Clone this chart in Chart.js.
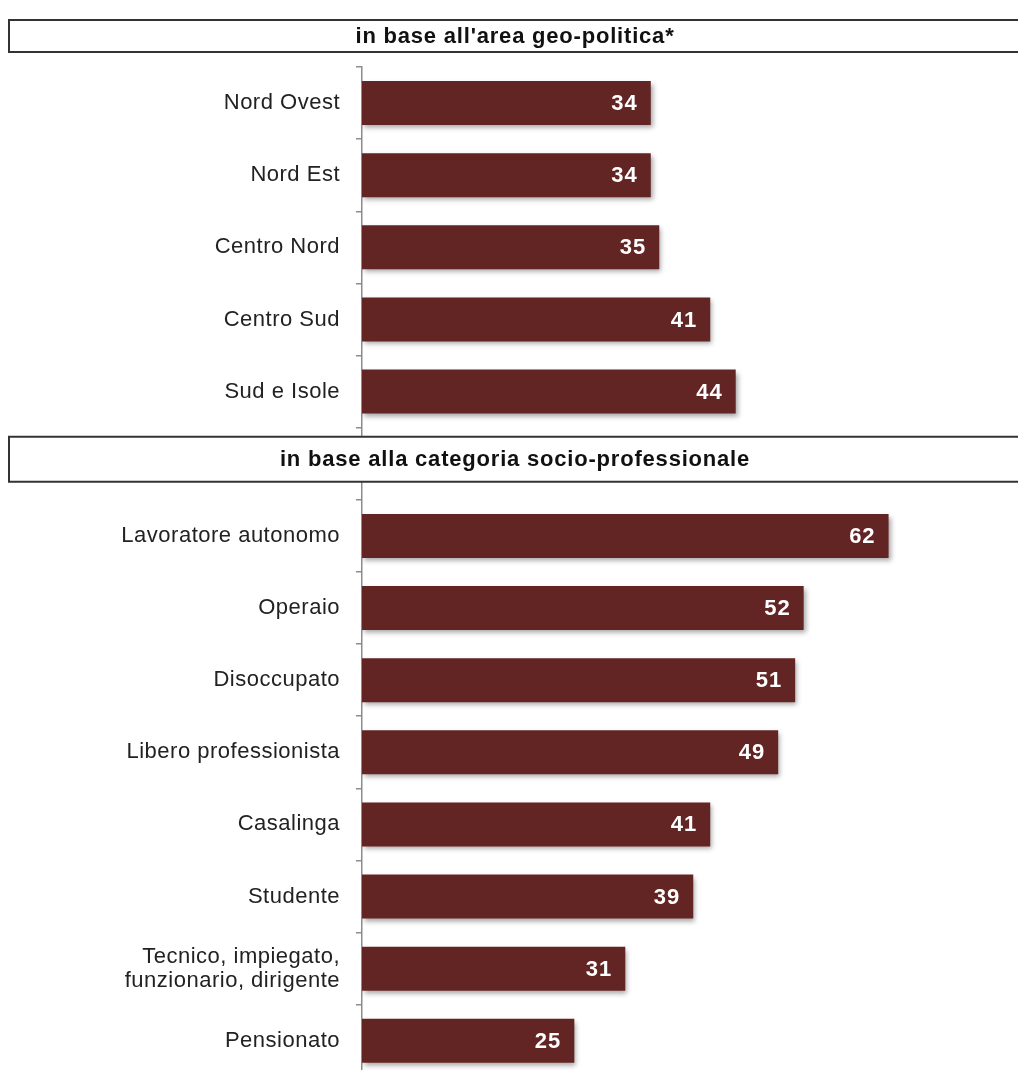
<!DOCTYPE html>
<html>
<head>
<meta charset="utf-8">
<script src="https://cdn.jsdelivr.net/npm/chart.js@4/dist/chart.umd.min.js"></script>
<style>
  html, body { margin: 0; padding: 0; background: #fff; overflow: hidden; }
  #wrap { position: relative; width: 1018px; height: 1105px; }
</style>
</head>
<body>
<div id="wrap"><canvas id="chart" width="1018" height="1105"></canvas></div>
<script>
// rows from top to bottom; the empty row holds the second header
const categories = [
  'Nord Ovest', 'Nord Est', 'Centro Nord', 'Centro Sud', 'Sud e Isole',
  '',
  'Lavoratore autonomo', 'Operaio', 'Disoccupato', 'Libero professionista',
  'Casalinga', 'Studente', ['Tecnico, impiegato,', 'funzionario, dirigente'], 'Pensionato'
];
const values = [34, 34, 35, 41, 44, null, 62, 52, 51, 49, 41, 39, 31, 25];
const headers = ["in base all'area geo-politica*", 'in base alla categoria socio-professionale'];
const headerRow = 5;

const barColor = '#632523';

// slightly wider letter spacing for the axis labels
const spacingPlugin = {
  id: 'spacing',
  beforeLayout(chart) { chart.ctx.letterSpacing = '0.5px'; },
  beforeDraw(chart) { chart.ctx.letterSpacing = '0.5px'; }
};

const shadowPlugin = {
  id: 'shadow',
  beforeDatasetsDraw(chart) {
    const ctx = chart.ctx;
    ctx.save();
    ctx.shadowColor = 'rgba(0,0,0,0.35)';
    ctx.shadowBlur = 5;
    ctx.shadowOffsetX = 2;
    ctx.shadowOffsetY = 3;
  },
  afterDatasetsDraw(chart) {
    chart.ctx.restore();
  }
};

const labelPlugin = {
  id: 'valueLabels',
  afterDatasetsDraw(chart) {
    const ctx = chart.ctx;
    const meta = chart.getDatasetMeta(0);
    ctx.save();
    ctx.letterSpacing = '1px';
    ctx.fillStyle = '#ffffff';
    ctx.font = 'bold 22px "Liberation Sans", Arial, sans-serif';
    ctx.textAlign = 'right';
    ctx.textBaseline = 'middle';
    meta.data.forEach((bar, i) => {
      if (values[i] == null) return;
      ctx.fillText(String(values[i]), bar.x - 13, bar.y + 1);
    });
    ctx.restore();
  }
};

const headerPlugin = {
  id: 'headers',
  afterDraw(chart) {
    const ctx = chart.ctx;
    const y = chart.scales.y;
    const mid = y.getPixelForValue(headerRow);
    const boxes = [
      { top: 20, bottom: 52, text: headers[0] },
      { top: mid - 27, bottom: mid + 18, text: headers[1] }
    ];
    ctx.save();
    ctx.letterSpacing = '0.8px';
    boxes.forEach(b => {
      ctx.fillStyle = '#ffffff';
      ctx.fillRect(9, b.top, 1030, b.bottom - b.top);
      ctx.strokeStyle = '#333333';
      ctx.lineWidth = 2;
      ctx.strokeRect(9, b.top, 1030, b.bottom - b.top);
      ctx.fillStyle = '#111111';
      ctx.font = 'bold 22px "Liberation Sans", Arial, sans-serif';
      ctx.textAlign = 'center';
      ctx.textBaseline = 'middle';
      ctx.fillText(b.text, 515, (b.top + b.bottom) / 2 + 1);
    });
    ctx.restore();
  }
};

new Chart(document.getElementById('chart'), {
  type: 'bar',
  data: {
    labels: categories,
    datasets: [{
      data: values,
      backgroundColor: barColor,
      borderWidth: 0,
      barPercentage: 0.61,
      categoryPercentage: 1.0
    }]
  },
  options: {
    indexAxis: 'y',
    responsive: false,
    animation: false,
    layout: { padding: { top: 67, bottom: 13, left: 0, right: 2 } },
    plugins: {
      legend: { display: false },
      tooltip: { enabled: false }
    },
    scales: {
      x: {
        min: 0,
        max: 77,
        display: false
      },
      y: {
        afterFit(scale) { scale.width = 362; },
        border: { display: true, color: '#8c8c8c', width: 1.5 },
        grid: { drawOnChartArea: false, tickLength: 6, color: '#8c8c8c', lineWidth: 1.5, offset: true },
        ticks: {
          color: '#222222',
          padding: 16,
          font: { family: '"Liberation Sans", Arial, sans-serif', size: 22, lineHeight: 1.1 },
          autoSkip: false
        }
      }
    }
  },
  plugins: [spacingPlugin, shadowPlugin, labelPlugin, headerPlugin]
});
</script>
</body>
</html>
